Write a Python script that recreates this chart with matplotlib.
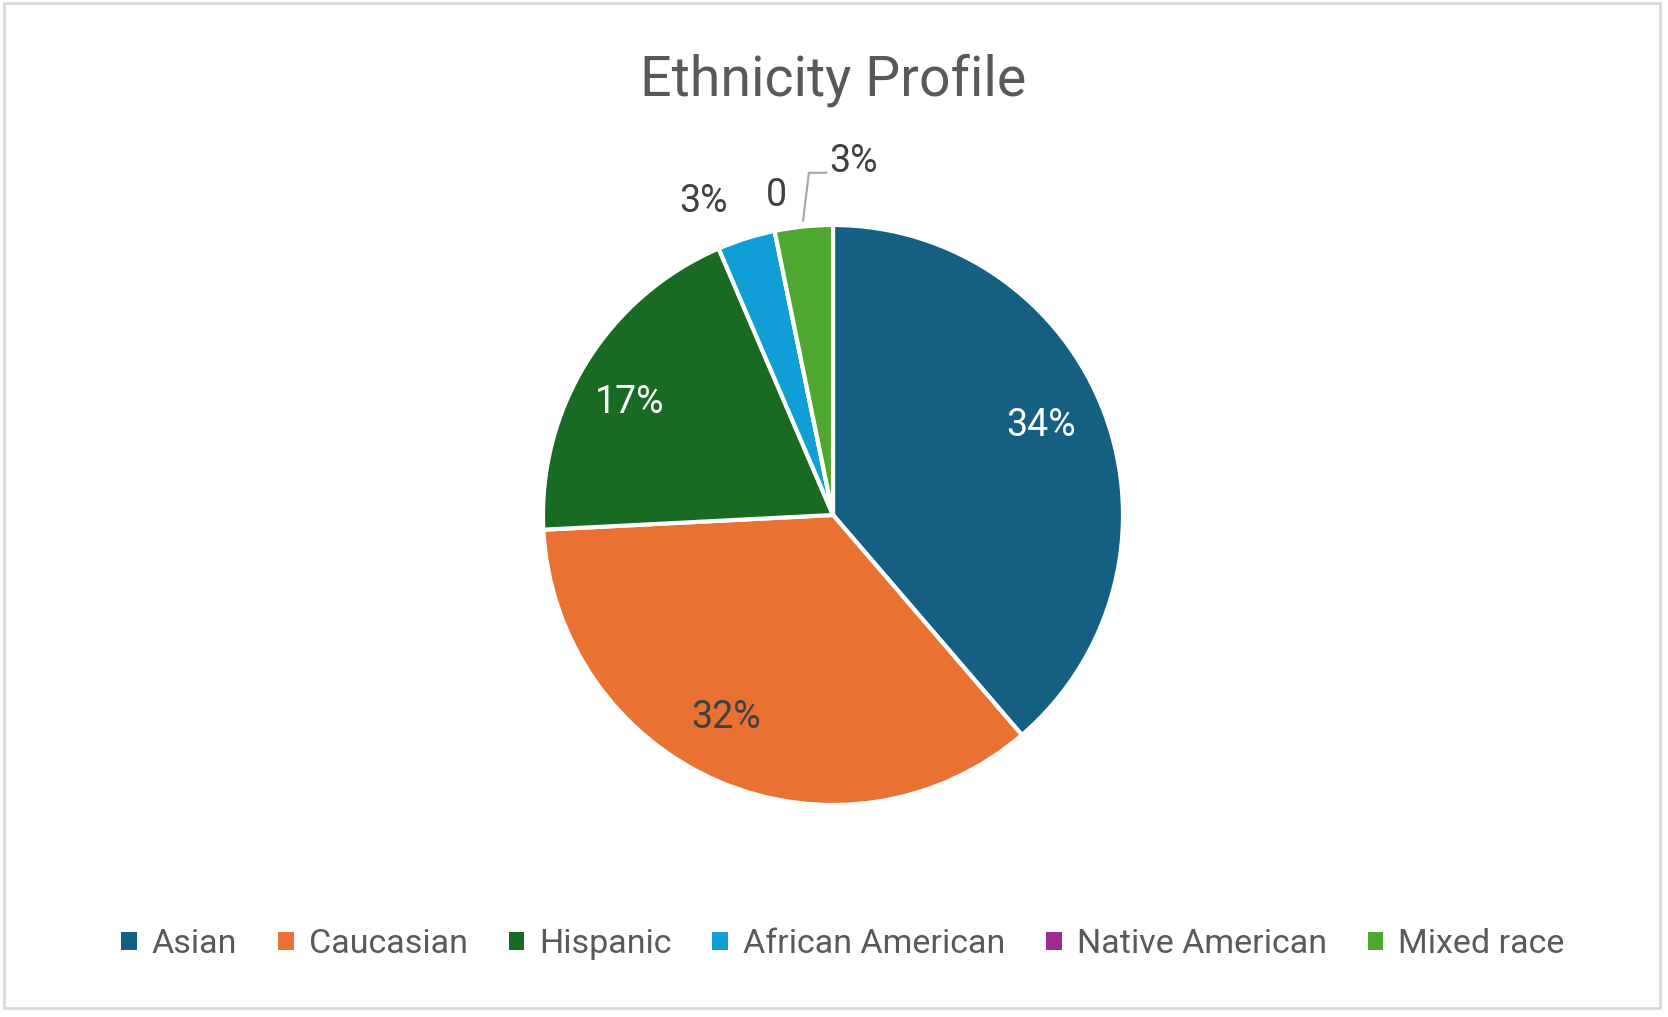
import numpy as np
import matplotlib
matplotlib.use('Agg')
import matplotlib.pyplot as plt
from matplotlib.patches import Patch, Rectangle

plt.rcParams['font.family'] = ['Roboto', 'DejaVu Sans']

# data (slice counts) and the data labels as shown
categories = ['Asian', 'Caucasian', 'Hispanic', 'African American', 'Native American', 'Mixed race']
counts = [12, 11, 6, 1, 0, 1]
label_text = ['34%', '32%', '17%', '3%', '0', '3%']
colors = ['#156082', '#E97132', '#196B24', '#0F9ED5', '#A02B93', '#4EA72E']
label_colors = ['white', '#404040', 'white', '#404040', '#404040', '#404040']
label_dist = [0.78, 0.79, 0.80, 1.17, 1.12, 1.0]
label_shift = [3, -4.5, 3, 5, -1.5, 0]  # degrees, as Excel nudged them

W, H = 1668, 1017
fig = plt.figure(figsize=(W / 100, H / 100), dpi=100)

# chart border
fig.patches.append(Rectangle((4 / W, 9 / H), 1656 / W, 1005 / H, transform=fig.transFigure,
                             fill=False, edgecolor='#d9d9d9', linewidth=2))

cx, cy, r = 833, 515, 290
ax = fig.add_axes([(cx - r) / W, (H - cy - r) / H, 2 * r / W, 2 * r / H])
wedges, _ = ax.pie(counts, colors=colors, startangle=90, counterclock=False,
                   wedgeprops=dict(edgecolor='white', linewidth=3))
ax.set_xlim(-1, 1)
ax.set_ylim(-1, 1)
ax.set_aspect('equal')
ax.axis('off')

for i, w in enumerate(wedges):
    mid = np.deg2rad((w.theta1 + w.theta2) / 2 + label_shift[i])
    d = label_dist[i]
    x, y = d * np.cos(mid), d * np.sin(mid)
    if categories[i] == 'Mixed race':
        # label pulled out with a leader line
        x0, y0 = 1.02 * np.cos(mid), 1.02 * np.sin(mid)
        ex, ey = x0 + 0.02, 1.18
        ax.plot([x0, ex, ex + 0.06], [y0, ey, ey], color='#a6a6a6', lw=1.5, clip_on=False)
        ax.text(ex + 0.07, ey + 0.04, label_text[i], ha='left', va='center',
                fontsize=27, color=label_colors[i])
        continue
    ax.text(x, y, label_text[i], ha='center', va='center', fontsize=27, color=label_colors[i])

fig.text(cx / W, 1 - 80 / H, 'Ethnicity Profile', ha='center', va='center',
         fontsize=40, color='#595959')

handles = [Patch(facecolor=c, edgecolor='none') for c in colors]
fig.legend(handles, categories, loc='center', bbox_to_anchor=(843 / W, 1 - 944 / H),
           ncol=6, frameon=False, fontsize=24.5, labelcolor='#595959',
           handlelength=0.45, handleheight=0.45, handletextpad=0.45, columnspacing=1.2)

fig.savefig('out.png', dpi=100, facecolor='white')
